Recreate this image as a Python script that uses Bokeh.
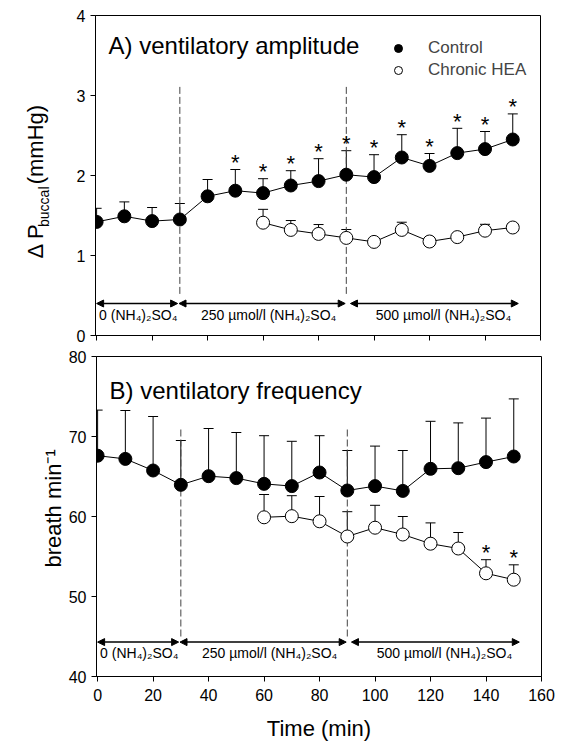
import math
from bokeh.plotting import figure
from bokeh.layouts import column, row
from bokeh.models import (ColumnDataSource, Whisker, TeeHead, Arrow, NormalHead, Label,
                          Legend, LegendItem, Range1d, SingleIntervalTicker, CustomJSTickFormatter)
from bokeh.core.properties import value
from bokeh.embed import file_html
from bokeh.resources import INLINE

FONT = "Liberation Sans"

# ---------------- data ----------------
time_ctrl = [0, 10, 20, 30, 40, 50, 60, 70, 80, 90, 100, 110, 120, 130, 140, 150]
time_hea = [60, 70, 80, 90, 100, 110, 120, 130, 140, 150]

amp_ctrl = [1.42, 1.49, 1.43, 1.45, 1.74, 1.81, 1.78, 1.875, 1.93, 2.01, 1.98, 2.225, 2.12, 2.28, 2.33, 2.45]
amp_ctrl_se = [0.17, 0.18, 0.17, 0.20, 0.21, 0.265, 0.18, 0.185, 0.28, 0.30, 0.28, 0.285, 0.155, 0.31, 0.22, 0.32]
amp_hea = [1.41, 1.32, 1.27, 1.22, 1.17, 1.32, 1.175, 1.23, 1.31, 1.35]
amp_hea_se = [0.167, 0.117, 0.117, 0.105, 0.05, 0.096, 0.05, 0.05, 0.08, 0.05]
amp_sig_ctrl = [50, 60, 70, 80, 90, 100, 110, 120, 130, 140, 150]

freq_ctrl = [67.6, 67.2, 65.75, 63.96, 65.04, 64.8, 64.08, 63.8, 65.5, 63.25, 63.8, 63.2, 65.96, 66.04, 66.8, 67.5]
freq_ctrl_se = [5.7, 6.05, 6.75, 5.54, 5.96, 5.7, 6.02, 5.6, 4.6, 5.0, 5.0, 5.05, 5.94, 5.66, 5.5, 7.2]
freq_hea = [59.9, 60.04, 59.4, 57.5, 58.6, 57.75, 56.6, 56.0, 52.9, 52.1]
freq_hea_se = [2.85, 2.56, 3.1, 3.1, 2.8, 2.25, 2.6, 2.0, 1.7, 1.86]
freq_sig_hea = [140, 150]

phase_bounds = [30, 90]
phase_labels = ["0 (NH\u2084)\u2082SO\u2084", "250 \u00b5mol/l (NH\u2084)\u2082SO\u2084", "500 \u00b5mol/l (NH\u2084)\u2082SO\u2084"]
phase_label_x = [15, 62, 125]
arrow_x0 = [0, 29.7, 91.5]
arrow_x1 = [29.2, 89.6, 152]

x_ticks_step = 20

LAB_W = 65          # width of the strip that carries the rotated y-axis titles
TOP_H = 345
BOT_H = 395


def style(p):
    p.grid.visible = False
    p.outline_line_color = "black"
    p.outline_line_alpha = 1
    p.outline_line_width = 1
    p.background_fill_color = "white"
    p.border_fill_color = "white"
    for ax in p.axis:
        ax.major_tick_in = 0
        ax.major_tick_out = 5
        ax.minor_tick_line_color = None
        ax.axis_line_color = "black"
        ax.major_tick_line_color = "black"
        ax.major_label_text_font = FONT
        ax.major_label_text_font_size = "16px"
        ax.major_label_text_color = "black"
        ax.axis_label_text_font = FONT
        ax.axis_label_text_font_size = "22px"
        ax.axis_label_text_font_style = "normal"
        ax.axis_label_text_color = "black"


def label_strip(height, pieces):
    """A narrow figure without axes that holds rotated axis-title text pieces (pixel coordinates)."""
    f = figure(width=LAB_W, height=height, x_range=Range1d(0, LAB_W), y_range=Range1d(0, height),
               x_axis_type=None, y_axis_type=None, output_backend="svg", toolbar_location=None,
               min_border=0, min_border_left=0, min_border_right=0, min_border_top=0, min_border_bottom=0)
    f.outline_line_color = None
    f.grid.visible = False
    f.background_fill_color = "white"
    f.border_fill_color = "white"
    for txt, x, y, size in pieces:
        f.text(x=[x], y=[y], text=[txt], angle=math.pi / 2, text_align="left", text_baseline="alphabetic",
               text_font=value(FONT), text_font_size=value(size), text_color="black")
    return f


def panel(p, t_c, y_c, se_c, t_h, y_h, se_h, sig_t, sig_series, y_arrow, y_top, y_bot):
    # phase boundaries
    p.segment(x0=phase_bounds, x1=phase_bounds, y0=[y_bot] * len(phase_bounds), y1=[y_top] * len(phase_bounds),
              line_color="#444444", line_width=1, line_dash="7 3")
    # error bars (upper only)
    for t, y, se in ((t_c, y_c, se_c), (t_h, y_h, se_h)):
        src = ColumnDataSource(dict(t=t, lo=y, hi=[a + b for a, b in zip(y, se)]))
        w = Whisker(source=src, base="t", lower="lo", upper="hi", dimension="height",
                    line_color="black", line_width=1,
                    upper_head=TeeHead(size=10, line_color="black", line_width=1), lower_head=None)
        p.add_layout(w)
    p.line(t_c, y_c, line_color="black", line_width=1)
    p.line(t_h, y_h, line_color="black", line_width=1)
    rc = p.scatter(t_c, y_c, size=13, marker="circle", fill_color="black", line_color="black")
    rh = p.scatter(t_h, y_h, size=13, marker="circle", fill_color="white", line_color="black", line_width=1)
    # significance stars
    if sig_series == "ctrl":
        tt, yy, ss = t_c, y_c, se_c
    else:
        tt, yy, ss = t_h, y_h, se_h
    sx, sy = [], []
    for t, y, s in zip(tt, yy, ss):
        if t in sig_t:
            sx.append(t)
            sy.append(y + s)
    p.text(x=sx, y=sy, text=["*"] * len(sx), text_align="center", text_baseline="alphabetic",
           y_offset=-7, text_font=value(FONT), text_font_size=value("22px"), text_color="black")
    # phase arrows
    asrc = ColumnDataSource(dict(x0=arrow_x0, x1=arrow_x1, y=[y_arrow] * 3))
    p.add_layout(Arrow(source=asrc, x_start="x0", y_start="y", x_end="x1", y_end="y",
                       line_color="black", line_width=1.5,
                       start=NormalHead(size=7, fill_color="black", line_color="black", line_width=1),
                       end=NormalHead(size=7, fill_color="black", line_color="black", line_width=1)))
    p.text(x=phase_label_x, y=[y_arrow] * 3, text=phase_labels, text_align="center", text_baseline="middle",
           y_offset=11, text_font=value(FONT), text_font_size=value("14px"), text_color="black")
    return rc, rh


# ---------------- top panel ----------------
p1 = figure(frame_width=445, frame_height=320, x_range=Range1d(-0.4, 160), y_range=Range1d(0, 4),
            output_backend="svg", toolbar_location=None,
            min_border_left=95 - LAB_W, min_border_right=21, min_border_top=15, min_border_bottom=10)
p1.xaxis.ticker = SingleIntervalTicker(interval=x_ticks_step)
p1.yaxis.ticker = SingleIntervalTicker(interval=1)
style(p1)
p1.xaxis.formatter = CustomJSTickFormatter(code="return ''")
p1.xaxis.major_label_standoff = 0

rc1, rh1 = panel(p1, time_ctrl, amp_ctrl, amp_ctrl_se, time_hea, amp_hea, amp_hea_se,
                 amp_sig_ctrl, "ctrl", 0.40, 3.11, 0.52)

p1.add_layout(Label(x=4.3, y=3.625, text="A) ventilatory amplitude", text_font=FONT, text_font_size="24px",
                    text_baseline="alphabetic", text_align="left", text_color="black"))

legend = Legend(items=[LegendItem(label="Control", renderers=[rc1]),
                       LegendItem(label="Chronic HEA", renderers=[rh1])],
                location=(293, 255), border_line_color=None, background_fill_alpha=0,
                padding=0, margin=0, spacing=2, glyph_width=20, glyph_height=20, label_height=20,
                label_standoff=20, label_text_font=FONT, label_text_font_size="17px")
p1.add_layout(legend)

lab1 = label_strip(TOP_H, [("\u0394 P", 35, TOP_H - 262, "22px"),
                           ("buccal", 43, TOP_H - 228, "14px"),
                           ("(mmHg)", 35, TOP_H - 182, "22px")])

# ---------------- bottom panel ----------------
p2 = figure(frame_width=445, frame_height=320, x_range=Range1d(-0.4, 160), y_range=Range1d(40, 80),
            output_backend="svg", toolbar_location=None,
            min_border_left=95 - LAB_W, min_border_right=21, min_border_top=11, min_border_bottom=64)
p2.xaxis.ticker = SingleIntervalTicker(interval=x_ticks_step)
p2.yaxis.ticker = SingleIntervalTicker(interval=10)
style(p2)
p2.xaxis.axis_label = "Time (min)"
p2.xaxis.axis_label_standoff = 12
p2.xaxis.major_label_standoff = 7

panel(p2, time_ctrl, freq_ctrl, freq_ctrl_se, time_hea, freq_hea, freq_hea_se,
      freq_sig_hea, "hea", 44.3, 71.0, 45.0)

p2.add_layout(Label(x=4.3, y=75.8, text="B) ventilatory frequency", text_font=FONT, text_font_size="24px",
                    text_baseline="alphabetic", text_align="left", text_color="black"))

lab2 = label_strip(BOT_H, [("breath min\u207b\u00b9", 53, (TOP_H + BOT_H) - 608, "22px")])

layout = column(row(lab1, p1, spacing=0), row(lab2, p2, spacing=0), spacing=0)
open("out.html", "w").write(file_html(layout, INLINE))
